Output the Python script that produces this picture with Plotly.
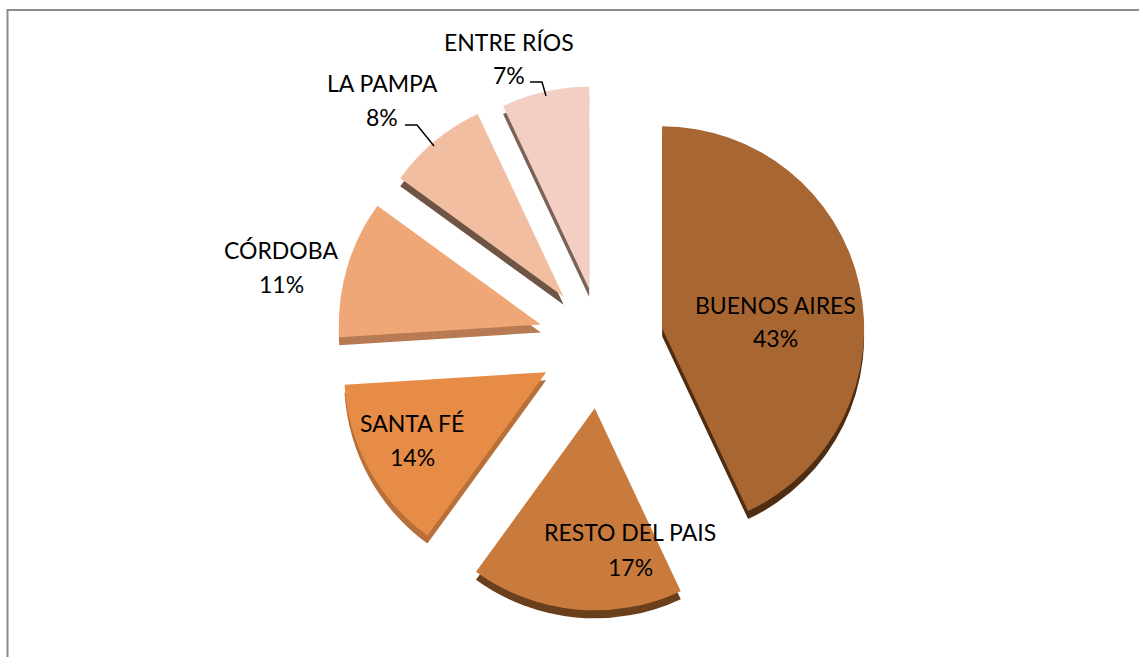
import plotly.graph_objects as go

# ---- data ----
labels = ["BUENOS AIRES", "RESTO DEL PAIS", "SANTA FÉ", "CÓRDOBA", "LA PAMPA", "ENTRE RÍOS"]
values = [43, 17, 14, 11, 8, 7]

# ---- styles ----
colors = ["#A86632", "#C97B3E", "#E68C46", "#F0A777", "#F1BEA1", "#F2CFC2"]
side_colors = ["#4E2D13", "#6A3F1C", "#B8703A", "#B87A52", "#6E5444", "#7A6258"]
pulls = [0.31, 0.33, 0.31, 0.31, 0.29, 0.27]

W, H = 1139, 657
R = 202
cx, cy = 601, 342
half = R * (1 + max(pulls))
depth = 8

def dom(cx, cy):
    return dict(x=[(cx - half) / W, (cx + half) / W],
                y=[(H - cy - half) / H, (H - cy + half) / H])

fig = go.Figure()
# side (thickness) layer
fig.add_trace(go.Pie(labels=labels, values=values, sort=False, direction="clockwise",
                     rotation=0, pull=pulls, marker=dict(colors=side_colors, line=dict(width=0)),
                     textinfo="none", hoverinfo="skip", domain=dom(cx, cy + depth),
                     showlegend=False))
# top layer
fig.add_trace(go.Pie(labels=labels, values=values, sort=False, direction="clockwise",
                     rotation=0, pull=pulls, marker=dict(colors=colors, line=dict(width=0)),
                     textinfo="none", domain=dom(cx, cy), showlegend=False))

# label positions (pixels): name line, percent line
label_pos = [(775, 305, 338), (630, 532, 567), (412, 423, 457),
             (281, 250, 284), (382, 83, 117), (509, 42, 75)]
total = sum(values)
font = dict(family="Lato, Carlito, Calibri, sans-serif", size=23, color="#000000")
ann = []
for lab, v, (x, y1, y2) in zip(labels, values, label_pos):
    ann.append(dict(x=x / W, y=1 - y1 / H, xref="paper", yref="paper", text=lab,
                    showarrow=False, xanchor="center", yanchor="middle", font=font))
    ann.append(dict(x=x / W, y=1 - y2 / H, xref="paper", yref="paper",
                    text=f"{round(v / total * 100)}%",
                    showarrow=False, xanchor="center", yanchor="middle", font=font))

def P(x, y):
    return f"{x / W},{1 - y / H}"

shapes = [
    dict(type="rect", xref="paper", yref="paper", x0=7.5 / W, x1=1.02, y0=-0.02, y1=1 - 10 / H,
         line=dict(color="#8C8C8C", width=2), fillcolor="rgba(0,0,0,0)", layer="below"),
    # leader lines
    dict(type="path", xref="paper", yref="paper", path=f"M{P(530, 82)} L{P(542, 82)} L{P(546, 96)}",
         line=dict(color="#000000", width=1.5)),
    dict(type="path", xref="paper", yref="paper", path=f"M{P(405, 125)} L{P(417, 125)} L{P(434, 146)}",
         line=dict(color="#000000", width=1.5)),
]

fig.update_layout(width=W, height=H, margin=dict(l=0, r=0, t=0, b=0),
                  paper_bgcolor="white", plot_bgcolor="white",
                  annotations=ann, shapes=shapes, showlegend=False)
fig.write_html("out.html")
